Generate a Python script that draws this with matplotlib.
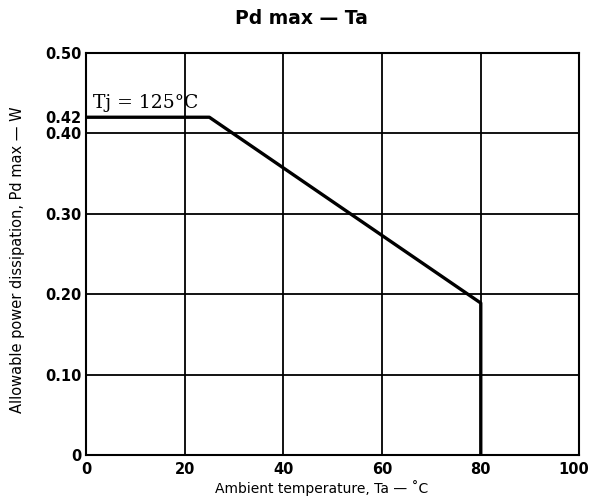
import matplotlib.pyplot as plt
import matplotlib.transforms as mtransforms

# Derating curve, Tj = 125 C
ta = [0, 25, 80, 80]
pd_max = [0.42, 0.42, 0.189, 0]

x_ticks = [0, 20, 40, 60, 80, 100]
y_grid = [0.10, 0.20, 0.30, 0.40, 0.50]
y_ticks = [0, 0.10, 0.20, 0.30, 0.40, 0.42, 0.50]
y_labels = ['0', '0.10', '0.20', '0.30', '0.40', '0.42', '0.50']

fig = plt.figure(figsize=(5.91, 4.99), dpi=100)
ax = fig.add_axes([0.1455, 0.088, 0.835, 0.806])

for x in x_ticks[1:]:
    ax.axvline(x, color='black', lw=1.3)
for y in y_grid:
    ax.axhline(y, color='black', lw=1.3)

ax.plot(ta, pd_max, color='black', lw=2.4, solid_joinstyle='round')

ax.set_xlim(0, 100)
ax.set_ylim(0, 0.50)
ax.set_xticks(x_ticks)
ax.set_xticklabels([str(v) for v in x_ticks], fontsize=10.5, fontweight='bold')
ax.set_yticks(y_ticks)
ax.set_yticklabels(y_labels, fontsize=10.5, fontweight='bold')
ax.tick_params(axis='y', length=0, pad=3)
ax.tick_params(axis='x', length=0, pad=5)
for s in ax.spines.values():
    s.set_linewidth(1.5)

# nudge the last x label so it stays inside the picture
last = ax.get_xticklabels()[-1]
last.set_transform(last.get_transform() +
                   mtransforms.ScaledTranslation(-4 / 72, 0, fig.dpi_scale_trans))

ax.text(1.5, 0.431, 'Tj = 125°C', family='DejaVu Serif', fontsize=13.5)

fig.text(0.545, 0.022, 'Ambient temperature, Ta — ˚C', ha='center', va='center',
         fontsize=10)
fig.text(0.029, 0.48, 'Allowable power dissipation, Pd max — W', ha='center',
         va='center', rotation=90, fontsize=10.5)
fig.text(0.51, 0.963, 'Pd max — Ta', ha='center', va='center',
         fontsize=13.5, fontweight='bold')

plt.savefig('out.png')
